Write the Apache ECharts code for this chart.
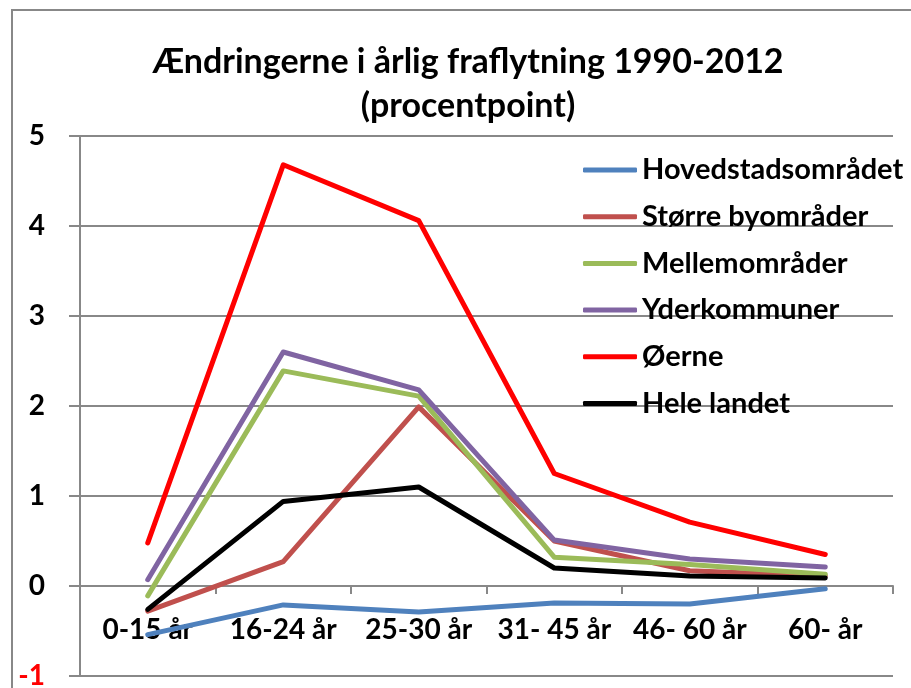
<!DOCTYPE html>
<html>
<head>
<meta charset="utf-8">
<script src="https://cdn.jsdelivr.net/npm/echarts@6/dist/echarts.min.js"></script>
<style>
  html, body { margin: 0; padding: 0; background: #fff; }
  #chart { width: 911px; height: 688px; }
</style>
</head>
<body>
<div id="chart"></div>
<script>
// aldersgrupper
var categories = ['0-15 år', '16-24 år', '25-30 år', '31- 45 år', '46- 60 år', '60- år'];
var seriesNames = ['Hovedstadsområdet', 'Større byområder', 'Mellemområder', 'Yderkommuner', 'Øerne', 'Hele landet'];
var hovedstad = [-0.54, -0.21, -0.29, -0.19, -0.20, -0.03];
var storreBy = [-0.28, 0.27, 1.99, 0.50, 0.17, 0.11];
var mellem = [-0.11, 2.39, 2.11, 0.32, 0.24, 0.13];
var yder = [0.07, 2.60, 2.18, 0.51, 0.30, 0.21];
var oerne = [0.48, 4.68, 4.06, 1.25, 0.71, 0.35];
var heleLandet = [-0.26, 0.94, 1.10, 0.20, 0.11, 0.09];
var colors = ['#4F81BD', '#C0504D', '#9BBB59', '#8064A2', '#FF0000', '#000000'];

var font = 'Lato, "Open Sans", sans-serif';
var allValues = [hovedstad, storreBy, mellem, yder, oerne, heleLandet];

var chartDom = echarts.init(document.getElementById('chart'));

var series = [];
for (var i = 0; i < seriesNames.length; i++) {
    series.push({
        name: seriesNames[i],
        type: 'line',
        data: allValues[i],
        symbol: 'none',
        lineStyle: { width: 5, color: colors[i], join: 'round', cap: 'round' },
        itemStyle: { color: colors[i] }
    });
}

chartDom.setOption({
    animation: false,
    color: colors,
    title: {
        text: 'Ændringerne i årlig fraflytning 1990-2012\n(procentpoint)',
        left: 463,
        textAlign: 'center',
        top: 35,
        textStyle: { fontFamily: font, fontWeight: 'bold', fontSize: 34, lineHeight: 44, color: '#000' }
    },
    // ramme om diagrammet
    graphic: [{
        type: 'rect',
        shape: { x: 12, y: 10, width: 920, height: 700 },
        style: { fill: 'none', stroke: '#888', lineWidth: 2 },
        silent: true
    }],
    legend: {
        orient: 'vertical',
        left: 578,
        top: 150,
        icon: 'roundRect',
        itemWidth: 54,
        itemHeight: 5,
        itemGap: 16.7,
        textStyle: { fontFamily: font, fontWeight: 'bold', fontSize: 29, lineHeight: 30, color: '#000' },
        data: seriesNames
    },
    grid: { left: 80, right: 18, top: 136, bottom: 12, outerBoundsMode: 'none', containLabel: false },
    xAxis: {
        type: 'category',
        data: categories,
        boundaryGap: true,
        // aksen krydser ved 0
        offset: -90,
        axisLine: { onZero: false, lineStyle: { color: '#888', width: 2 } },
        axisTick: { show: true, length: 8, lineStyle: { color: '#888', width: 2 } },
        axisLabel: { interval: 0, hideOverlap: false, margin: 30, fontFamily: font, fontWeight: 'bold', fontSize: 28, color: '#000' },
        splitLine: { show: false }
    },
    yAxis: {
        type: 'value',
        min: -1,
        max: 5,
        interval: 1,
        axisLine: { show: true, lineStyle: { color: '#888', width: 2 } },
        axisTick: { show: true, length: 11, lineStyle: { color: '#888', width: 2 } },
        axisLabel: {
            margin: 35,
            fontFamily: font,
            fontWeight: 'bold',
            fontSize: 28,
            color: function (value) { return value < 0 ? '#FF0000' : '#000'; }
        },
        splitLine: { lineStyle: { color: '#888', width: 2 } }
    },
    series: series
});
</script>
</body>
</html>
